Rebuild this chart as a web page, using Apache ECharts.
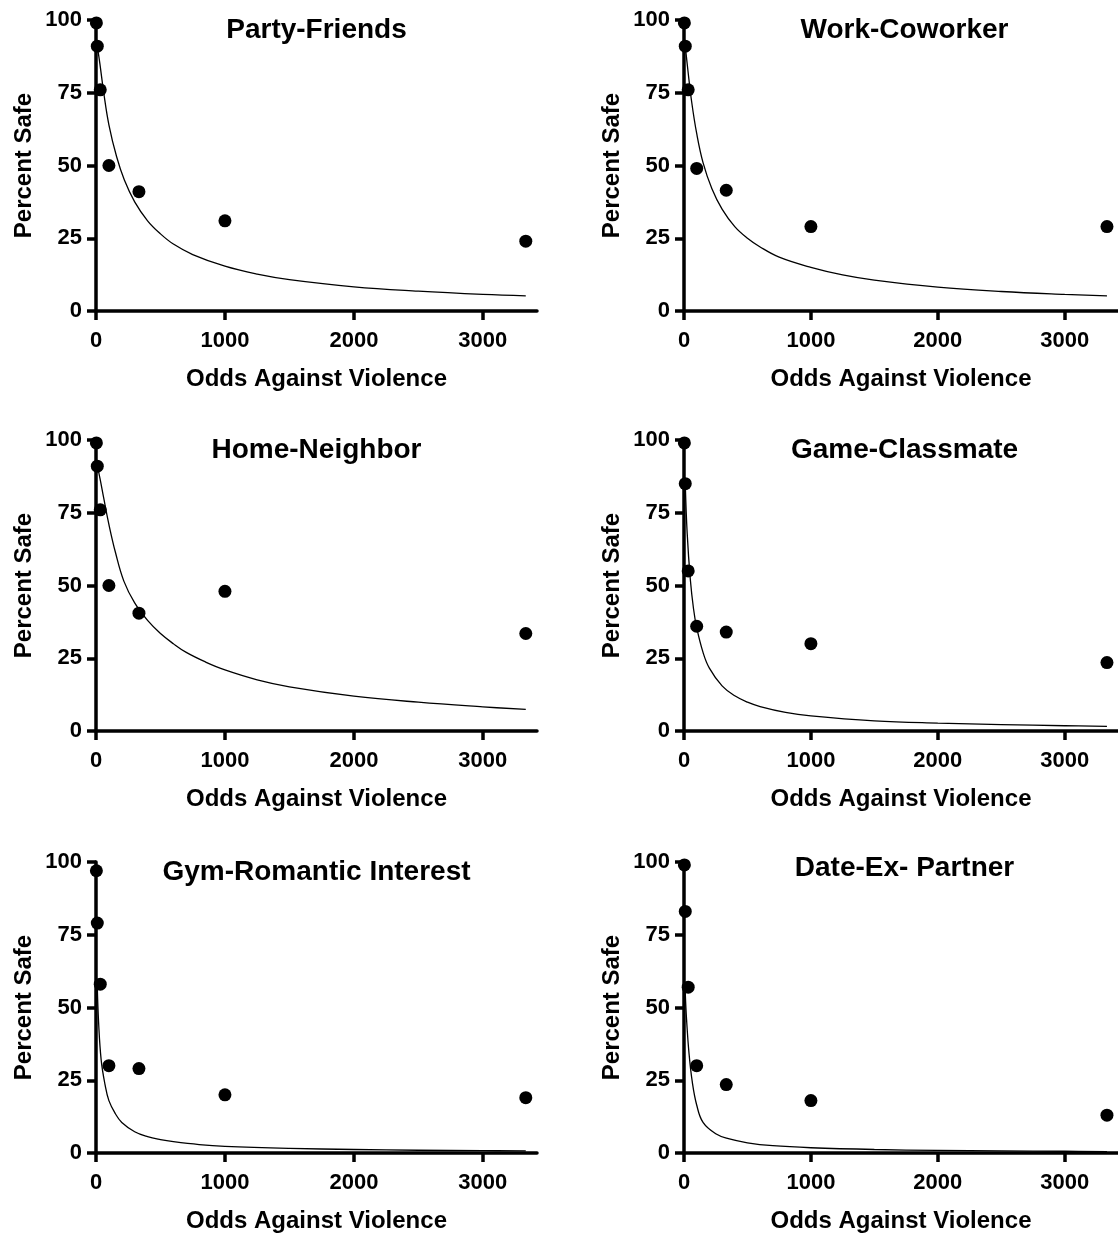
<!DOCTYPE html>
<html>
<head>
<meta charset="utf-8">
<title>Percent Safe vs Odds Against Violence</title>
<script src="https://cdn.jsdelivr.net/npm/echarts@6/dist/echarts.min.js"></script>
<style>
  html, body { margin: 0; padding: 0; background: #fff; }
  #chart { width: 1118px; height: 1234px; }
</style>
</head>
<body>
<div id="chart"></div>
<script>
// --- values ---
const oddsX = [3, 10, 33, 100, 333, 1000, 3333];

const partyFriends = [99, 91, 76, 50, 41, 31, 24];
const workCoworker = [99, 91, 76, 49, 41.5, 29, 29];
const homeNeighbor = [99, 91, 76, 50, 40.5, 48, 33.5];
const gameClassmate = [99, 85, 55, 36, 34, 30, 23.5];
const gymRomantic = [97, 79, 58, 30, 29, 20, 19];
const dateExPartner = [99, 83, 57, 30, 23.5, 18, 13];

// fitted curves, sampled by eye
const partyFitX = [10, 30, 60, 100, 160, 220, 300, 400, 500, 600, 750, 1000, 1250, 1500, 2000, 2500, 3000, 3333];
const partyFitY = [91, 85, 75, 64, 53, 45, 37.5, 31, 26.5, 23, 19.4, 15.4, 12.7, 10.8, 8.3, 6.8, 5.7, 5.2];
const workFitX = [10, 30, 60, 100, 150, 220, 300, 400, 500, 600, 750, 1000, 1250, 1500, 2000, 2500, 3000, 3333];
const workFitY = [91, 83, 72, 61, 51, 42, 35, 29, 25, 22, 18.5, 15, 12.4, 10.6, 8.2, 6.7, 5.7, 5.2];
const homeFitX = [10, 30, 60, 100, 150, 216, 300, 400, 500, 600, 700, 850, 1000, 1250, 1500, 2000, 2500, 3000, 3333];
const homeFitY = [91, 87, 80, 71, 61.5, 51.5, 44, 38, 33.5, 30, 27, 23.7, 21, 17.6, 15.2, 12, 9.9, 8.3, 7.4];
const gameFitX = [10, 25, 50, 75, 100, 150, 200, 300, 400, 500, 600, 800, 1000, 1500, 2000, 2500, 3000, 3333];
const gameFitY = [85, 68, 52, 42, 35.5, 27, 21.6, 15.5, 12.1, 9.9, 8.4, 6.4, 5.2, 3.5, 2.7, 2.2, 1.8, 1.6];
const gymFitX = [10, 20, 40, 70, 100, 150, 200, 300, 400, 500, 600, 800, 1000, 1500, 2000, 2500, 3000, 3333];
const gymFitY = [57, 45, 32, 23.5, 18, 13.5, 10.5, 7.3, 5.6, 4.6, 3.9, 2.9, 2.3, 1.6, 1.2, 0.95, 0.8, 0.7];
const dateFitX = [10, 20, 40, 65, 100, 150, 250, 350, 500, 700, 1000, 1500, 2000, 2500, 3000, 3333];
const dateFitY = [55, 46, 34, 24.5, 16.5, 10.5, 6.6, 4.9, 3.5, 2.5, 1.8, 1.2, 0.9, 0.7, 0.6, 0.5];

const xTicks = [0, 1000, 2000, 3000];
const titles = ['Party-Friends', 'Work-Coworker', 'Home-Neighbor', 'Game-Classmate', 'Gym-Romantic Interest', 'Date-Ex- Partner'];

const panels = [
  { pts: partyFriends, fx: partyFitX, fy: partyFitY },
  { pts: workCoworker, fx: workFitX, fy: workFitY },
  { pts: homeNeighbor, fx: homeFitX, fy: homeFitY },
  { pts: gameClassmate, fx: gameFitX, fy: gameFitY },
  { pts: gymRomantic, fx: gymFitX, fy: gymFitY },
  { pts: dateExPartner, fx: dateFitX, fy: dateFitY }
];

// --- layout (pixels) ---
const colLeft = [96, 684];
const rowTop = [20, 440, 862];
const titleTop = [16, 16, 436, 436, 858, 854];
const plotW = 441;
const plotH = 291;
const FONT = '"Liberation Sans", Arial, sans-serif';

const chart = echarts.init(document.getElementById('chart'), null, { renderer: 'canvas' });

const grid = [], xAxis = [], yAxis = [], series = [], title = [];

panels.forEach((p, i) => {
  const col = i % 2, row = Math.floor(i / 2);
  grid.push({ left: colLeft[col], top: rowTop[row], width: plotW, height: plotH });

  title.push({
    text: titles[i],
    left: colLeft[col] + plotW / 2,
    top: titleTop[i],
    textAlign: 'center',
    padding: 0,
    textStyle: { fontFamily: FONT, fontWeight: 'bold', fontSize: 28, color: '#000' }
  });

  const lineStyle = { color: '#000', width: 3.5 };
  xAxis.push({
    type: 'value', gridIndex: i, min: 0, max: 3420,
    name: 'Odds Against Violence', nameLocation: 'middle', nameGap: 56,
    nameTextStyle: { fontFamily: FONT, fontWeight: 'bold', fontSize: 24, color: '#000' },
    axisLine: { show: true, onZero: false, lineStyle },
    axisTick: { show: true, length: 9, lineStyle, customValues: xTicks },
    axisLabel: {
      customValues: xTicks, margin: 19, formatter: v => String(v),
      fontFamily: FONT, fontWeight: 'bold', fontSize: 22, color: '#000'
    },
    splitLine: { show: false }
  });
  yAxis.push({
    type: 'value', gridIndex: i, min: 0, max: 100, interval: 25,
    name: 'Percent Safe', nameLocation: 'middle', nameGap: 60, nameRotate: 90,
    nameTextStyle: { fontFamily: FONT, fontWeight: 'bold', fontSize: 24, color: '#000' },
    axisLine: { show: true, onZero: false, lineStyle },
    axisTick: { show: true, length: 9, lineStyle },
    axisLabel: { margin: 14, fontFamily: FONT, fontWeight: 'bold', fontSize: 22, color: '#000' },
    splitLine: { show: false }
  });

  series.push({
    type: 'line', xAxisIndex: i, yAxisIndex: i,
    data: p.fx.map((x, k) => [x, p.fy[k]]),
    smooth: 0.4, showSymbol: false,
    lineStyle: { color: '#000', width: 1.3 },
    silent: true, z: 3
  });
  series.push({
    type: 'scatter', xAxisIndex: i, yAxisIndex: i,
    data: oddsX.map((x, k) => [x, p.pts[k]]),
    symbol: 'circle', symbolSize: 13, clip: false,
    itemStyle: { color: '#000', opacity: 1 }, z: 4
  });
});

chart.setOption({
  animation: false,
  backgroundColor: '#fff',
  title, grid, xAxis, yAxis, series
});
</script>
</body>
</html>
